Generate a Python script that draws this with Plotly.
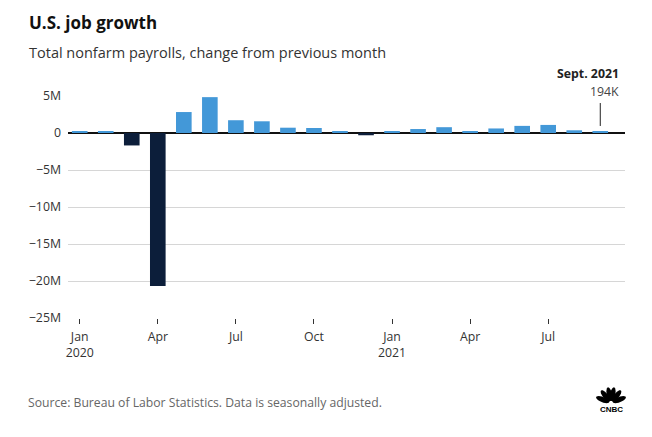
import math
import plotly.graph_objects as go

months = ["2020-01", "2020-02", "2020-03", "2020-04", "2020-05", "2020-06", "2020-07",
          "2020-08", "2020-09", "2020-10", "2020-11", "2020-12", "2021-01", "2021-02",
          "2021-03", "2021-04", "2021-05", "2021-06", "2021-07", "2021-08", "2021-09"]
payrolls = [214000, 251000, -1683000, -20679000, 2833000, 4846000, 1726000,
            1583000, 716000, 680000, 264000, -306000, 233000, 536000,
            785000, 269000, 614000, 962000, 1091000, 366000, 194000]
tick_months = ["2020-01", "2020-04", "2020-07", "2020-10", "2021-01", "2021-04", "2021-07"]
tick_labels = ["Jan<br>2020", "Apr", "Jul", "Oct", "Jan<br>2021", "Apr", "Jul"]
y_ticks = [5e6, 0, -5e6, -10e6, -15e6, -20e6, -25e6]
y_labels = ["5M", "0", "−5M", "−10M", "−15M", "−20M", "−25M"]

POS = "#4398d8"
NEG = "#0c1e3a"
FONT = "'Open Sans', Lato, sans-serif"

L, R, T, B = 68, 625, 96, 318
W, H = R - L, B - T


def px(x):
    return (x - L) / W


def py(y):
    return (B - y) / H


colors = [POS if v >= 0 else NEG for v in payrolls]

fig = go.Figure()
fig.add_trace(go.Bar(x=months, y=payrolls, marker=dict(color=colors, line=dict(width=0)),
                     width=0.6, hoverinfo="skip"))

fig.update_layout(
    width=652, height=437,
    margin=dict(l=L, r=652 - R, t=T, b=437 - B),
    paper_bgcolor="white", plot_bgcolor="white",
    showlegend=False,
    font=dict(family=FONT, size=12, color="#333333"),
)
fig.update_xaxes(
    type="category", range=[-0.45, 20.95],
    tickmode="array", tickvals=tick_months, ticktext=tick_labels,
    ticks="outside", ticklen=5, tickcolor="#333333", tickwidth=1,
    showgrid=False, showline=False, zeroline=False,
    ticklabelstandoff=2,
    tickfont=dict(size=12.3, color="#333333"),
)
fig.update_yaxes(
    range=[-25e6, 5e6],
    tickmode="array", tickvals=y_ticks, ticktext=y_labels,
    showgrid=True, gridcolor="#d6d6d6", gridwidth=1,
    zeroline=True, zerolinecolor="#111111", zerolinewidth=1.5,
    showline=False, ticks="", ticklabelstandoff=6,
    tickfont=dict(size=12.3, color="#333333"),
)

# Titles
fig.add_annotation(text="<b>U.S. job growth</b>", xref="paper", yref="paper",
                   x=px(27), y=py(22), xanchor="left", yanchor="middle",
                   showarrow=False, font=dict(size=17, color="#111111", family=FONT))
fig.add_annotation(text="Total nonfarm payrolls, change from previous month", xref="paper", yref="paper",
                   x=px(27), y=py(52), xanchor="left", yanchor="middle",
                   showarrow=False, font=dict(size=14.5, color="#333333", family=FONT))

# Sept 2021 callout
last_idx = len(months) - 1
fig.add_annotation(text="<b>Sept. 2021</b>", xref="paper", yref="paper",
                   x=px(621), y=py(74), xanchor="right", yanchor="middle",
                   showarrow=False, font=dict(size=12.3, color="#222222", family=FONT))
fig.add_annotation(text="194K", xref="paper", yref="paper",
                   x=px(621), y=py(91), xanchor="right", yanchor="middle",
                   showarrow=False, font=dict(size=12.3, color="#444444", family=FONT))
fig.add_shape(type="line", xref="x", yref="y", x0=last_idx, x1=last_idx,
              y0=4.05e6, y1=0.95e6, line=dict(color="#222222", width=1))

# Source
fig.add_annotation(text="Source: Bureau of Labor Statistics. Data is seasonally adjusted.",
                   xref="paper", yref="paper", x=px(26), y=py(403),
                   xanchor="left", yanchor="middle", showarrow=False,
                   font=dict(size=12.2, color="#666666", family=FONT))

# CNBC logo (approximation: peacock fan + wordmark)
cx, cy = 611, 403
for ang_deg in [158, 128, 101, 79, 52, 22]:
    a = math.radians(ang_deg)
    ccx = cx + 9.0 * math.cos(a)
    ccy = cy - 9.0 * math.sin(a)
    pts = []
    for k in range(24):
        t = 2 * math.pi * k / 24
        u = 7.0 * math.cos(t)
        v = 2.6 * math.sin(t)
        xx = ccx + u * math.cos(a) - v * math.sin(a)
        yy = ccy - (u * math.sin(a) + v * math.cos(a))
        pts.append((px(xx), py(yy)))
    path = "M " + " L ".join(f"{p[0]:.5f},{p[1]:.5f}" for p in pts) + " Z"
    fig.add_shape(type="path", xref="paper", yref="paper", path=path,
                  fillcolor="#000000", line=dict(width=0))
fig.add_annotation(text="<b>CNBC</b>", xref="paper", yref="paper",
                   x=px(611), y=py(409), xanchor="center", yanchor="middle",
                   showarrow=False, font=dict(size=8, color="#000000", family="Arial"))

fig.write_html("out.html")
